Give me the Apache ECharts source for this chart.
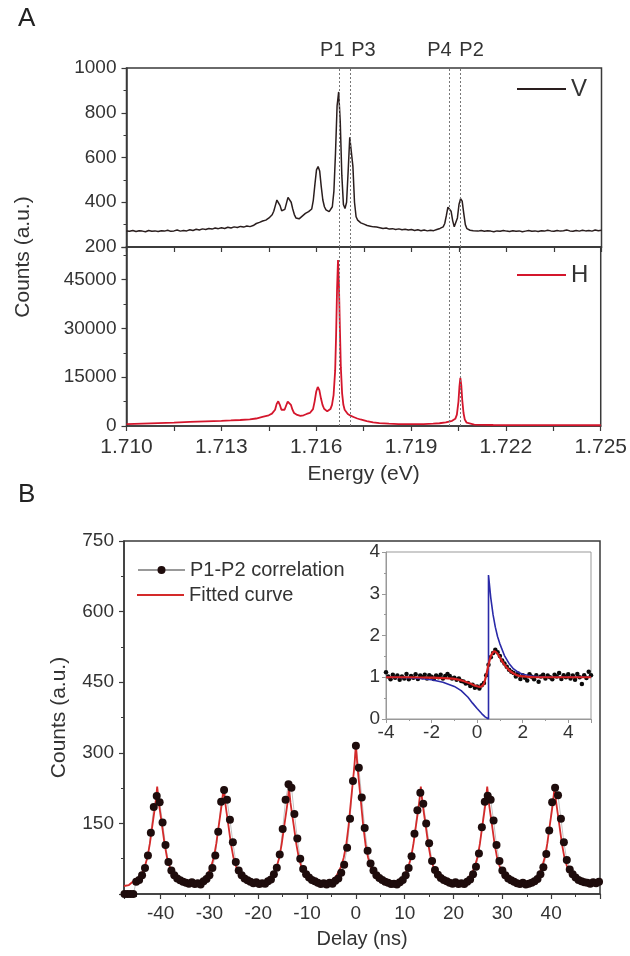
<!DOCTYPE html>
<html lang="en" style="height: 100%">
<head>
  <meta charset="utf-8">
</head>
<body style="height: 100%; margin: 0">
  <div id="container" style="width: 630px; height: 956px"></div>
  <script type="text/javascript" src="https://fastly.jsdelivr.net/npm/echarts@6/dist/echarts.min.js"></script>
  <script type="text/javascript">
    // ---------- panel A : PL spectra (energy eV, counts) ----------
    var vSpectrum = [
      [1.7100, 272], [1.7101, 270], [1.7102, 274], [1.7103, 269], [1.7104, 273], [1.7105, 271], [1.7106, 268], [1.7107, 274], [1.7108, 270], [1.7109, 272],
      [1.7110, 269], [1.7111, 273], [1.7112, 271], [1.7113, 275], [1.7114, 270], [1.7115, 272], [1.7116, 276], [1.7117, 271], [1.7118, 274], [1.7119, 272],
      [1.7120, 277], [1.7121, 274], [1.7122, 279], [1.7123, 276], [1.7124, 281], [1.7125, 278], [1.7126, 283], [1.7127, 280], [1.7128, 285], [1.7129, 282],
      [1.7130, 286], [1.7131, 283], [1.7132, 288], [1.7133, 285], [1.7134, 290], [1.7135, 287], [1.7136, 292], [1.7137, 289], [1.7138, 294], [1.7139, 291],
      [1.7140, 296],
      [1.71405, 300], [1.71410, 305], [1.71415, 303], [1.71420, 310], [1.71425, 312], [1.71430, 316], [1.71435, 314], [1.71440, 320], [1.71445, 322], [1.71450, 330],
      [1.71455, 336], [1.71460, 344], [1.71465, 360], [1.71470, 385], [1.71475, 410], [1.71480, 414], [1.71485, 385], [1.71490, 362], [1.71495, 358], [1.71500, 368],
      [1.71505, 395], [1.71510, 422], [1.71515, 426], [1.71520, 400], [1.71525, 370], [1.71530, 345], [1.71535, 330], [1.71540, 324], [1.71545, 326], [1.71550, 330],
      [1.71555, 338], [1.71560, 345], [1.71565, 350], [1.71570, 354], [1.71575, 358], [1.71580, 352], [1.71585, 370], [1.71590, 410], [1.71595, 480], [1.71600, 545],
      [1.71605, 560], [1.71610, 540], [1.71615, 470], [1.71620, 410], [1.71625, 380], [1.71630, 366], [1.71635, 360], [1.71640, 358], [1.71645, 362], [1.71650, 380],
      [1.71655, 450], [1.71660, 620], [1.71665, 830], [1.71670, 893], [1.71675, 760], [1.71680, 520], [1.71685, 390], [1.71690, 372], [1.71695, 400], [1.71700, 540],
      [1.71705, 690], [1.71710, 695], [1.71715, 560], [1.71720, 400], [1.71725, 335], [1.71730, 320], [1.71735, 312], [1.71740, 308], [1.71745, 305], [1.71750, 302],
      [1.71755, 298], [1.71760, 296], [1.71765, 297], [1.71770, 293], [1.71775, 292], [1.71780, 290], [1.71785, 288], [1.71790, 289], [1.71795, 285], [1.71800, 286],
      [1.7181, 283], [1.7182, 285], [1.7183, 280], [1.7184, 282], [1.7185, 278], [1.7186, 281], [1.7187, 277], [1.7188, 279], [1.7189, 276], [1.7190, 278],
      [1.7191, 274], [1.7192, 277], [1.7193, 273], [1.7194, 276], [1.7195, 272], [1.7196, 275], [1.7197, 273], [1.7198, 278], [1.7199, 283],
      [1.72000, 290], [1.72005, 305], [1.72010, 340], [1.72015, 378], [1.72020, 384], [1.72025, 360], [1.72030, 318], [1.72035, 290], [1.72040, 292], [1.72045, 330],
      [1.72050, 390], [1.72055, 416], [1.72060, 405], [1.72065, 350], [1.72070, 300], [1.72075, 282], [1.72080, 278], [1.72085, 275], [1.72090, 277], [1.72095, 273], [1.72100, 275],
      [1.7211, 271], [1.7212, 274], [1.7213, 270], [1.7214, 273], [1.7215, 271], [1.7216, 268], [1.7217, 272], [1.7218, 270], [1.7219, 274], [1.7220, 271],
      [1.7221, 269], [1.7222, 273], [1.7223, 270], [1.7224, 272], [1.7225, 268], [1.7226, 271], [1.7227, 274], [1.7228, 270], [1.7229, 272], [1.7230, 269],
      [1.7231, 273], [1.7232, 271], [1.7233, 275], [1.7234, 272], [1.7235, 270], [1.7236, 274], [1.7237, 271], [1.7238, 273], [1.7239, 276], [1.7240, 272],
      [1.7241, 270], [1.7242, 274], [1.7243, 271], [1.7244, 275], [1.7245, 272], [1.7246, 274], [1.7247, 271], [1.7248, 276], [1.7249, 273], [1.7250, 275]
    ];

    var hSpectrum = [
      [1.7100, 600], [1.7105, 750], [1.7110, 900], [1.7115, 1050], [1.7120, 1250], [1.7125, 1450], [1.7130, 1600], [1.7133, 1700], [1.7136, 1850], [1.7139, 2050],
      [1.7141, 2300], [1.7143, 2800], [1.7145, 3300], [1.7146, 3800], [1.71470, 5000], [1.71475, 6800], [1.71480, 7600], [1.71485, 6500], [1.71490, 5000], [1.71495, 4600],
      [1.71500, 5000], [1.71505, 6300], [1.71510, 7500], [1.71515, 7600], [1.71520, 6500], [1.71525, 5000], [1.7153, 4000], [1.7154, 3400], [1.7155, 3100], [1.7156, 3300],
      [1.7157, 3700], [1.7158, 4000], [1.71585, 4300], [1.71590, 5200], [1.71595, 7500], [1.71600, 10500], [1.71605, 12000], [1.71610, 11000], [1.71615, 8500], [1.71620, 6500],
      [1.71625, 5300], [1.71630, 4700], [1.71635, 4500], [1.71640, 4600], [1.71645, 5200], [1.71650, 6500], [1.71655, 9500], [1.71660, 17000], [1.71663, 28000], [1.71666, 42000],
      [1.71669, 51000], [1.71672, 43000], [1.71675, 30000], [1.71678, 18000], [1.71682, 10000], [1.71686, 6500], [1.71690, 5000], [1.7170, 3700], [1.7171, 3100], [1.7172, 2700],
      [1.7173, 2300], [1.7174, 2000], [1.7176, 1500], [1.7178, 1100], [1.7180, 900], [1.7183, 700], [1.7186, 600], [1.7190, 550], [1.7194, 600], [1.7197, 700],
      [1.7199, 850], [1.7201, 1100], [1.7203, 1600], [1.72040, 2200], [1.72045, 3500], [1.72050, 7500], [1.72053, 12000], [1.72056, 14800], [1.72059, 12500], [1.72062, 8000],
      [1.72066, 4000], [1.72070, 2000], [1.72076, 1000], [1.7208, 700], [1.7210, 450], [1.7213, 350], [1.7216, 300], [1.7220, 280], [1.7225, 260], [1.7230, 250],
      [1.7240, 240], [1.7250, 230]
    ];

    var peakEnergies = [1.71672, 1.71707, 1.72020, 1.72055];
    var peakNames = ['P1', 'P3', 'P4', 'P2'];
    var peakLabelShift = [-7, 13, -10, 11];

    // ---------- panel B : P1-P2 cross-correlation ----------
    var delayStart = -47.4;
    var delayStep = 0.6;
    var corrCounts = [
      0, 0, 0, 0, 26, 30, 40, 55, 82, 130,
      185, 208, 195, 152, 104, 68, 50, 40, 33, 29,
      26, 24, 22, 25, 21, 23, 20, 27, 32, 40,
      55, 82, 132, 196, 221, 200, 158, 110, 68, 50,
      40, 33, 29, 26, 23, 25, 21, 23, 22, 27,
      31, 42, 56, 84, 138, 200, 233, 226, 170, 118,
      75, 53, 42, 35, 30, 27, 24, 21, 23, 20,
      24, 22, 28, 33, 45, 62, 98, 160, 240, 315,
      268, 205, 140, 92, 65, 50, 40, 34, 30, 26,
      24, 21, 22, 20, 25, 30, 40, 55, 80, 128,
      178, 215, 192, 150, 108, 70, 51, 41, 34, 30,
      27, 24, 22, 25, 21, 23, 21, 26, 31, 42,
      58, 86, 142, 196, 209, 200, 156, 104, 70, 50,
      40, 33, 29, 26, 23, 21, 24, 20, 22, 24,
      27, 32, 42, 57, 85, 135, 195, 226, 210, 160,
      110, 72, 52, 42, 35, 30, 27, 25, 24, 22,
      25, 23, 26
    ];

    var corrFit = [
      [-47.5, 17], [-46.5, 19], [-45.7, 26], [-44.7, 32], [-43.7, 47], [-43.2, 60], [-42.7, 78], [-42.2, 107], [-41.7, 145], [-41.3, 174], [-41.0, 197],
      [-40.7, 228], [-40.4, 197], [-40.1, 174], [-39.7, 145], [-39.2, 107], [-38.7, 78], [-38.2, 60], [-37.7, 47], [-36.7, 32], [-35.7, 26], [-33.9, 21],
      [-32.1, 26], [-31.1, 32], [-30.1, 47], [-29.6, 60], [-29.1, 78], [-28.6, 107], [-28.1, 145], [-27.7, 174], [-27.4, 197],
      [-27.1, 228], [-26.8, 197], [-26.5, 174], [-26.1, 145], [-25.6, 107], [-25.1, 78], [-24.6, 60], [-24.1, 47], [-23.1, 32], [-22.1, 26], [-20.4, 21],
      [-18.7, 26], [-17.7, 32], [-16.7, 47], [-16.2, 59], [-15.7, 77], [-15.2, 106], [-14.7, 143], [-14.3, 172], [-14.0, 194],
      [-13.7, 225], [-13.4, 194], [-13.1, 172], [-12.7, 143], [-12.2, 106], [-11.7, 77], [-11.2, 59], [-10.7, 47], [-9.7, 32], [-8.7, 26], [-6.85, 21],
      [-5, 29], [-4, 38], [-3, 59], [-2.5, 77], [-2, 103], [-1.5, 145], [-1, 199], [-0.6, 241], [-0.3, 273],
      [0, 318], [0.3, 273], [0.6, 241], [1, 199], [1.5, 145], [2, 103], [2.5, 77], [3, 59], [4, 38], [5, 29], [6.65, 21],
      [8.3, 26], [9.3, 32], [10.3, 47], [10.8, 60], [11.3, 78], [11.8, 107], [12.3, 145], [12.7, 174], [13.0, 197],
      [13.3, 228], [13.6, 197], [13.9, 174], [14.3, 145], [14.8, 107], [15.3, 78], [15.8, 60], [16.3, 47], [17.3, 32], [18.3, 26], [20.1, 21],
      [21.9, 26], [22.9, 32], [23.9, 47], [24.4, 60], [24.9, 78], [25.4, 107], [25.9, 145], [26.3, 174], [26.6, 197],
      [26.9, 228], [27.2, 197], [27.5, 174], [27.9, 145], [28.4, 107], [28.9, 78], [29.4, 60], [29.9, 47], [30.9, 32], [31.9, 26], [33.8, 21],
      [35.7, 26], [36.7, 32], [37.7, 47], [38.2, 60], [38.7, 78], [39.2, 107], [39.7, 145], [40.1, 174], [40.4, 197],
      [40.7, 228], [41.0, 197], [41.3, 174], [41.7, 145], [42.2, 107], [42.7, 78], [43.2, 60], [43.7, 47], [44.7, 32], [45.7, 26], [47.5, 22], [50, 21]
    ];

    // inset: normalised g2 around zero delay
    var insetStart = -4;
    var insetStep = 0.1;
    var insetCounts = [
      1.12, 1.02, 0.95, 1.06, 0.99, 1.04, 0.94, 1.02, 0.97, 1.08,
      0.95, 1.03, 0.99, 1.07, 0.96, 1.04, 1.00, 1.06, 0.97, 1.05,
      1.01, 0.96, 1.04, 1.00, 1.06, 0.97, 1.03, 1.08, 1.03, 0.97,
      0.99, 0.94, 0.97, 0.91, 0.90, 0.85, 0.86, 0.79, 0.82, 0.75,
      0.78, 0.73, 0.81, 0.86, 1.05, 1.30, 1.48, 1.58, 1.66, 1.60,
      1.51, 1.40, 1.33, 1.25, 1.18, 1.13, 1.10, 1.02, 1.09, 0.96,
      1.05, 0.99, 0.92, 1.07, 1.01, 0.95, 1.05, 0.89, 1.02, 1.06,
      0.97, 1.04, 1.00, 0.95, 1.06, 1.02, 1.10, 0.96, 1.05, 1.00,
      1.07, 0.97, 1.04, 0.94, 1.08, 1.00, 0.84, 1.05, 0.98, 1.13, 1.05
    ];
    var insetFit = [
      [-4, 1.0], [-3, 1.0], [-2, 0.99], [-1.5, 0.98], [-1, 0.96], [-0.6, 0.91], [-0.3, 0.85], [-0.1, 0.8], [0.1, 0.77], [0.2, 0.78],
      [0.3, 0.85], [0.4, 1.05], [0.5, 1.3], [0.6, 1.5], [0.7, 1.6], [0.78, 1.62], [0.9, 1.56], [1.0, 1.47], [1.2, 1.3], [1.4, 1.17],
      [1.6, 1.09], [1.8, 1.04], [2.0, 1.02], [2.5, 1.0], [5, 1.0]
    ];
    var insetIdeal = [
      [-4, 1.0], [-3, 0.99], [-2.5, 0.97], [-2, 0.94], [-1.5, 0.88], [-1, 0.78], [-0.7, 0.68], [-0.4, 0.52], [-0.2, 0.38], [0, 0.25],
      [0.2, 0.13], [0.35, 0.05], [0.5, 0], [0.5, 3.45], [0.6, 2.9], [0.7, 2.5], [0.8, 2.2], [0.9, 1.97], [1.0, 1.8], [1.2, 1.52],
      [1.4, 1.33], [1.6, 1.2], [1.8, 1.12], [2.0, 1.07], [2.5, 1.02], [3, 1.0], [5, 1.0]
    ];

    var corrData = corrCounts.map(function (c, i) { return [delayStart + i * delayStep, c]; });
    var insetData = insetCounts.map(function (c, i) { return [insetStart + i * insetStep, c]; });

    var FONT = '"Liberation Sans", Arial, sans-serif';
    var AXIS = '#3a3a3a';
    var TXT = '#333';

    function axisBase(extra) {
      var a = {
        type: 'value',
        axisLine: { show: true, onZero: false, lineStyle: { color: AXIS, width: 1.5 } },
        axisTick: { show: true, length: 5, lineStyle: { color: AXIS, width: 1.2 } },
        minorTick: { show: true, splitNumber: 2, length: 3, lineStyle: { color: AXIS, width: 1 } },
        axisLabel: { color: TXT, fontSize: 19, fontFamily: FONT, margin: 10, formatter: function (v) { return String(v); } },
        splitLine: { show: false },
        minorSplitLine: { show: false }
      };
      for (var k in extra) a[k] = extra[k];
      return a;
    }

    var energyLabel = function (v) {
      return Math.round(v * 10000) % 30 === 0 ? v.toFixed(3) : '';
    };

    var dom = document.getElementById('container');
    var myChart = echarts.init(dom, null, { renderer: 'canvas' });

    function peakMarks(lo, hi) {
      return {
        silent: true,
        symbol: ['none', 'none'],
        label: { show: false },
        lineStyle: { color: '#777', width: 1, type: [2, 2] },
        data: peakEnergies.map(function (e) {
          return [{ coord: [e, lo] }, { coord: [e, hi] }];
        })
      };
    }

    var legendText = { color: TXT, fontSize: 24, fontFamily: FONT };

    var option = {
      animation: false,
      backgroundColor: '#fff',
      textStyle: { fontFamily: FONT },
      grid: [
        { left: 126.5, top: 68, width: 475, height: 179, show: true, borderColor: AXIS, borderWidth: 1.5 },
        { left: 126.5, top: 247, width: 475, height: 179, show: true, borderColor: AXIS, borderWidth: 1.5 },
        { left: 124, top: 541, width: 476, height: 353, show: true, borderColor: AXIS, borderWidth: 1.5 },
        { left: 386, top: 552, width: 205, height: 167, show: true, borderColor: '#999', borderWidth: 1, backgroundColor: '#fff' }
      ],
      xAxis: [
        axisBase({ gridIndex: 0, min: 1.710, max: 1.725, interval: 0.0015, minorTick: { show: false }, axisLabel: { show: false } }),
        axisBase({
          gridIndex: 1, min: 1.710, max: 1.725, interval: 0.0015, minorTick: { show: false },
          axisLabel: { color: TXT, fontSize: 21, fontFamily: FONT, margin: 11, formatter: energyLabel },
          name: 'Energy (eV)', nameLocation: 'middle', nameGap: 38,
          nameTextStyle: { color: TXT, fontSize: 21, fontFamily: FONT }
        }),
        axisBase({
          gridIndex: 2, min: -47.5, max: 50, splitNumber: 10,
          axisLabel: {
            color: TXT, fontSize: 19, fontFamily: FONT, margin: 10,
            formatter: function (v) { return (Math.abs(v) <= 40 && v % 10 === 0) ? String(v) : ''; }
          },
          name: 'Delay (ns)', nameLocation: 'middle', nameGap: 35,
          nameTextStyle: { color: TXT, fontSize: 20, fontFamily: FONT }
        }),
        axisBase({
          gridIndex: 3, min: -4, max: 5, interval: 2,
          axisLine: { show: true, onZero: false, lineStyle: { color: '#999', width: 1 } },
          axisTick: { show: true, length: 4, lineStyle: { color: '#999', width: 1 } },
          minorTick: { show: true, splitNumber: 2, length: 2, lineStyle: { color: '#999' } },
          axisLabel: { color: TXT, fontSize: 19, fontFamily: FONT, margin: 4, showMaxLabel: false }
        })
      ],
      yAxis: [
        axisBase({ gridIndex: 0, min: 200, max: 1000, interval: 200 }),
        axisBase({
          gridIndex: 1, min: 0, max: 55000, interval: 15000,
          axisLabel: { color: TXT, fontSize: 19, fontFamily: FONT, margin: 10, formatter: function (v) { return v > 45000 ? '' : String(v); } }
        }),
        axisBase({
          gridIndex: 2, min: 0, max: 750, interval: 150,
          axisLabel: { color: TXT, fontSize: 19, fontFamily: FONT, margin: 10, formatter: function (v) { return v === 0 ? '' : String(v); } },
          name: 'Counts (a.u.)', nameLocation: 'middle', nameGap: 54,
          nameTextStyle: { color: TXT, fontSize: 21, fontFamily: FONT }
        }),
        axisBase({
          gridIndex: 3, min: 0, max: 4, interval: 1,
          axisLine: { show: true, onZero: false, lineStyle: { color: '#999', width: 1 } },
          axisTick: { show: true, length: 4, lineStyle: { color: '#999', width: 1 } },
          minorTick: { show: true, splitNumber: 2, length: 2, lineStyle: { color: '#999' } },
          axisLabel: { color: TXT, fontSize: 19, fontFamily: FONT, margin: 6 }
        })
      ],
      legend: [
        { data: [{ name: 'V', icon: 'rect' }], left: 512, top: 72, itemWidth: 49, itemHeight: 2, textStyle: legendText },
        { data: [{ name: 'H', icon: 'rect' }], left: 512, top: 258, itemWidth: 49, itemHeight: 2, textStyle: legendText },
        {
          data: ['P1-P2 correlation'], left: 132, top: 555, itemWidth: 47, itemHeight: 10,
          textStyle: { color: TXT, fontSize: 20, fontFamily: FONT }
        },
        {
          data: [{ name: 'Fitted curve', icon: 'rect' }], left: 132, top: 580, itemWidth: 47, itemHeight: 2,
          textStyle: { color: TXT, fontSize: 20, fontFamily: FONT }
        }
      ],
      graphic: [
        { id: 'panelA', type: 'text', left: 18, top: 6, style: { text: 'A', font: '26px ' + FONT, fill: '#222' } },
        { id: 'panelB', type: 'text', left: 18, top: 482, style: { text: 'B', font: '26px ' + FONT, fill: '#222' } },
        {
          id: 'ytitleA', type: 'text', x: 23, y: 257, rotation: Math.PI / 2,
          style: { text: 'Counts (a.u.)', font: '21px ' + FONT, fill: TXT, align: 'center', verticalAlign: 'middle' }
        }
      ],
      series: [
        {
          name: 'V', type: 'line', xAxisIndex: 0, yAxisIndex: 0, data: vSpectrum,
          symbol: 'none', color: '#2a1e1e', lineStyle: { color: '#2a1e1e', width: 1.5 },
          markLine: peakMarks(200, 1000)
        },
        {
          name: 'H', type: 'line', xAxisIndex: 1, yAxisIndex: 1, data: hSpectrum,
          symbol: 'none', color: '#d4162c', lineStyle: { color: '#d4162c', width: 1.8 },
          markLine: peakMarks(0, 55000)
        },
        {
          name: 'P1-P2 correlation', type: 'line', xAxisIndex: 2, yAxisIndex: 2, data: corrData,
          symbol: 'circle', symbolSize: 8, showSymbol: true,
          itemStyle: { color: '#1e0c0c' }, lineStyle: { color: '#999', width: 0.6 }
        },
        {
          name: 'Fitted curve', type: 'line', xAxisIndex: 2, yAxisIndex: 2, data: corrFit, z: 3,
          symbol: 'none', color: '#d42a2a', lineStyle: { color: '#d42a2a', width: 1.8 }
        },
        {
          name: 'inset data', type: 'scatter', xAxisIndex: 3, yAxisIndex: 3, data: insetData,
          symbolSize: 4.5, itemStyle: { color: '#0a0a0a', opacity: 1 }
        },
        {
          name: 'inset ideal', type: 'line', xAxisIndex: 3, yAxisIndex: 3, data: insetIdeal,
          symbol: 'none', lineStyle: { color: '#2a2aa8', width: 1.6 }
        },
        {
          name: 'inset fit', type: 'line', xAxisIndex: 3, yAxisIndex: 3, data: insetFit, smooth: 0.3,
          symbol: 'none', lineStyle: { color: '#d42020', width: 2.2 }, z: 4
        }
      ]
    };

    myChart.setOption(option);

    // peak names above the dotted lines
    var peakLabels = peakEnergies.map(function (e, i) {
      var px = myChart.convertToPixel({ xAxisIndex: 0 }, e);
      return {
        id: 'peak' + i, type: 'text', x: px + peakLabelShift[i], y: 50,
        style: { text: peakNames[i], font: '20px ' + FONT, fill: TXT, align: 'center', verticalAlign: 'middle' }
      };
    });
    myChart.setOption({ graphic: peakLabels });

    window.addEventListener('resize', myChart.resize);
  </script>
</body>
</html>
